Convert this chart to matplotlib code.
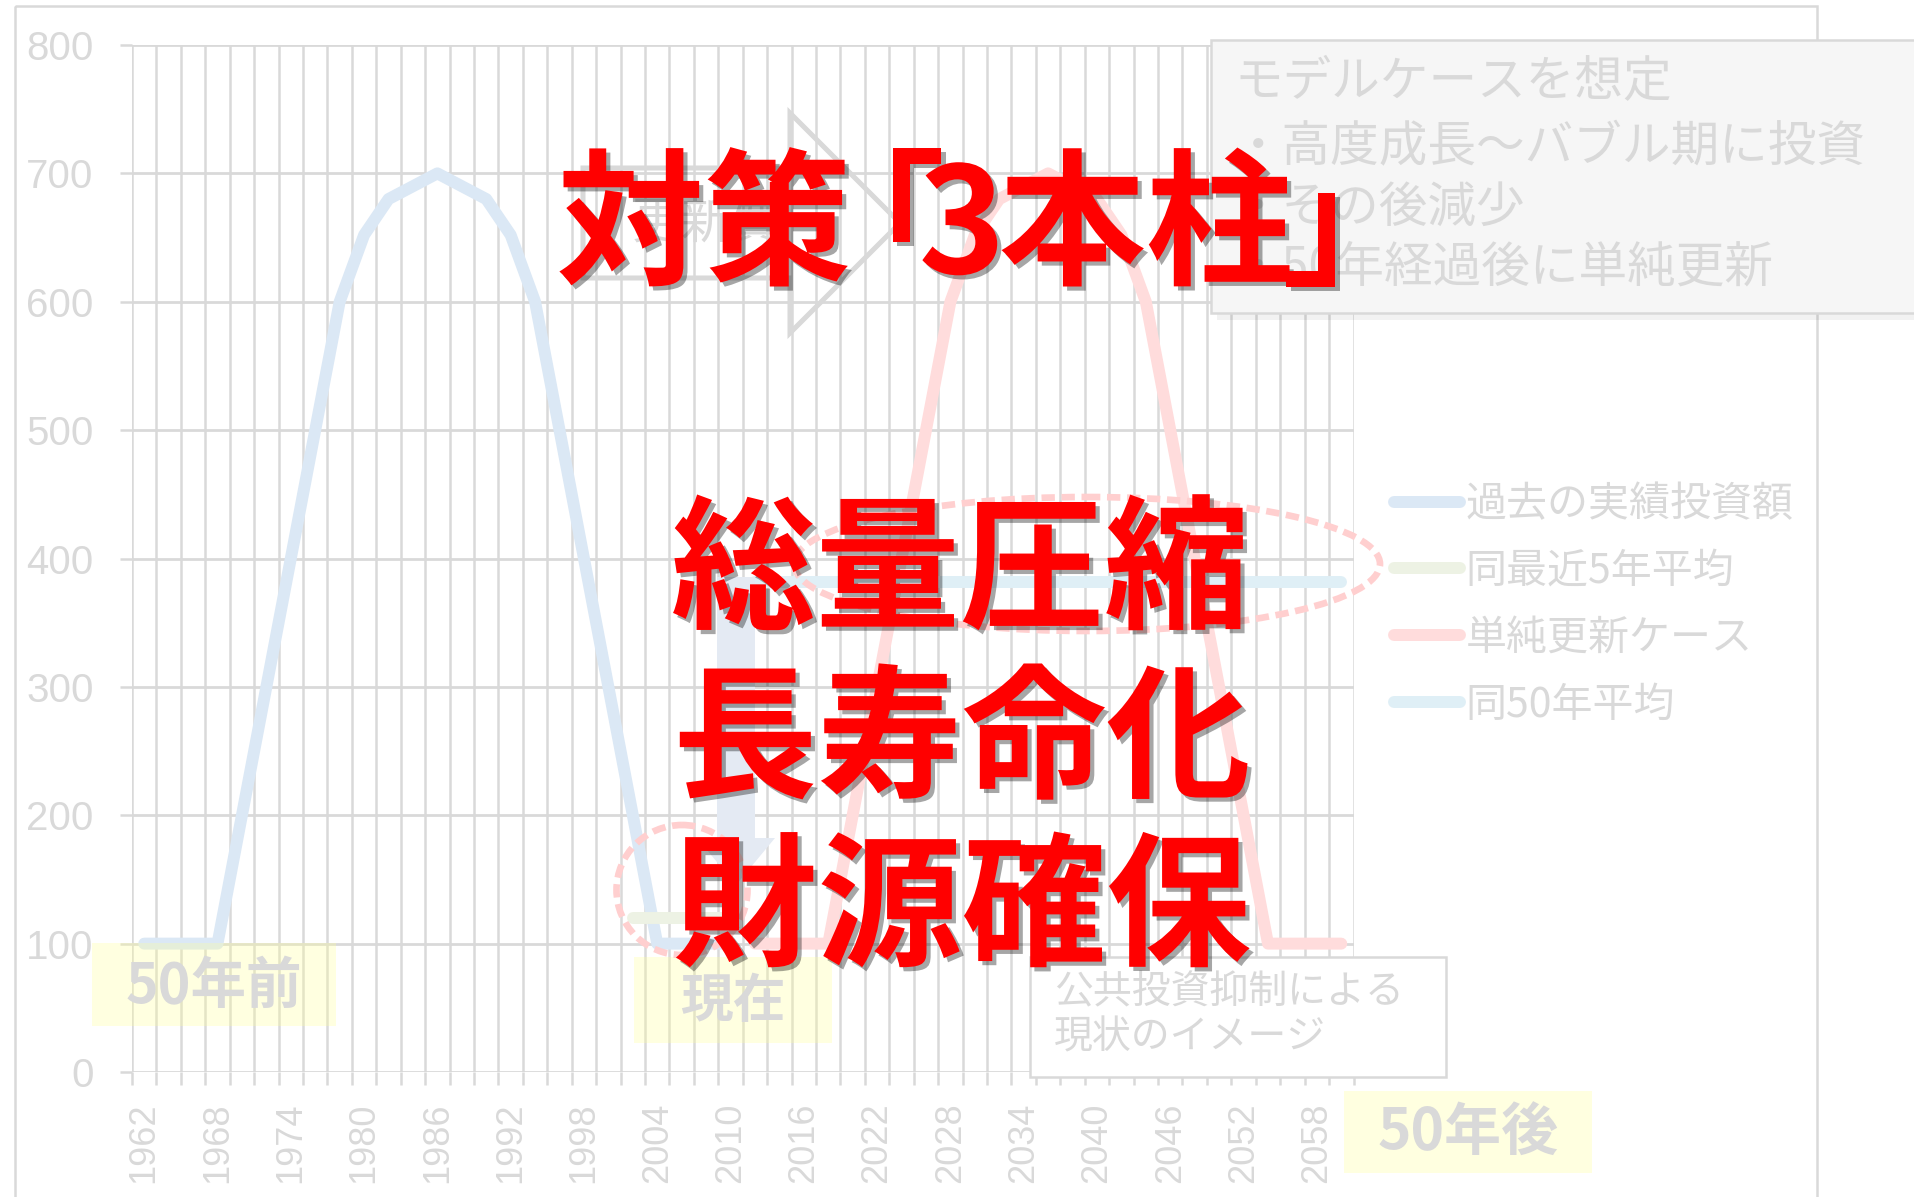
import matplotlib
matplotlib.use('Agg')
import matplotlib.pyplot as plt
import numpy as np
from matplotlib import patheffects
from matplotlib.patches import Rectangle, Ellipse, Polygon
from matplotlib.transforms import Affine2D

plt.rcParams['font.family'] = ['Noto Sans CJK JP', 'DejaVu Sans']

# categories (2-year steps)
years = list(range(1962, 2061, 2))
tick_years = years[::3]

# 過去の実績投資額 1962-2010
past_years = years[:25]
past = [100, 100, 100, 100, 200, 300, 400, 500, 600, 652, 680, 690, 700,
        690, 680, 652, 600, 500, 400, 300, 200, 100, 100, 100, 100]
# 同最近5年平均
recent_years = [2002, 2004, 2006, 2008, 2010]
recent5 = [120, 120, 120, 120, 120]
# 単純更新ケース 2012-2060
future_years = years[25:]
renewal = [100, 100, 100, 100, 200, 300, 400, 500, 600, 652, 680, 690, 700,
           690, 680, 652, 600, 500, 400, 300, 200, 100, 100, 100, 100]
# 同50年平均
avg50 = [382, 382, 382, 382, 382, 382, 382, 382, 382, 382, 382, 382, 382,
         382, 382, 382, 382, 382, 382, 382, 382, 382, 382, 382, 382]

GRAY = '#d9d9d9'
W, H = 1915, 1197
fig = plt.figure(figsize=(W / 100, H / 100), dpi=100)
# pixel coords of the reference, origin top-left
px = Affine2D().scale(1 / W, -1 / H).translate(0, 1) + fig.transFigure

ax = fig.add_axes([132 / W, (H - 1072) / H, 1221.5 / W, 1027 / H])
pos = {y: i for i, y in enumerate(years)}

line_kw = dict(lw=8.6, solid_capstyle='round', solid_joinstyle='round', zorder=3)
ax.plot([pos[y] for y in past_years], past, color='#dbe8f5', label='過去の実績投資額', **line_kw)
ax.plot([pos[y] for y in recent_years], recent5, color='#edf2e4', label='同最近5年平均', **line_kw)
ax.plot([pos[y] for y in future_years], renewal, color='#ffdcdc', label='単純更新ケース', **line_kw)
ax.plot([pos[y] for y in future_years], avg50, color='#dfeff6', label='同50年平均', **line_kw)

ax.set_xlim(-0.5, len(years) - 0.5)
ax.set_ylim(0, 800)
ax.set_yticks(range(0, 801, 100))
ax.set_xticks([pos[y] for y in tick_years])
ax.set_xticklabels([str(y) for y in tick_years], rotation=90, fontsize=26,
                   color=GRAY, family=['Liberation Sans', 'DejaVu Sans'])
ax.set_xticks(np.arange(-0.5, len(years), 1), minor=True)
for lab in ax.get_yticklabels():
    lab.set_family(['Liberation Sans Narrow', 'Liberation Sans', 'DejaVu Sans'])
ax.tick_params(axis='y', labelsize=29, labelcolor=GRAY, color=GRAY, length=8.6, width=1.8, pad=19)
ax.tick_params(axis='x', which='major', length=0, pad=22)
ax.tick_params(axis='x', which='minor', length=9.4, width=1.8, color=GRAY)
ax.grid(axis='y', which='major', color=GRAY, lw=2)
ax.grid(axis='x', which='minor', color=GRAY, lw=1.8)
ax.set_axisbelow(True)
for s in ax.spines.values():
    s.set_visible(False)

ax.legend(loc='upper left', bbox_to_anchor=(1394, 484), bbox_transform=px,
          frameon=False, fontsize=29.5, labelcolor=GRAY, handlelength=1.6,
          handletextpad=0.15, labelspacing=0.63, borderpad=0, borderaxespad=0)

# chart frame
fig.add_artist(Rectangle((15, 6), 1802, 1200, transform=px, fill=False, ec=GRAY, lw=1.8, zorder=0.5))

# yellow labels
for (x0, y0, w, h, txt, fs) in [(92, 943, 244, 83, '50年前', 40), (634, 957, 198, 86, '現在', 38),
                                (1344, 1091, 248, 82, '50年後', 41)]:
    fig.add_artist(Rectangle((x0, y0), w, h, transform=px, fc='#ffff99', alpha=0.3, ec='none', zorder=1))
    fig.text(x0 + w / 2, y0 + h / 2 + 2, txt, transform=px, ha='center', va='center',
             fontsize=fs, fontweight='bold', color=GRAY, zorder=3)

# gray outline arrow "更新費"
fig.add_artist(Polygon([(583, 168), (790, 168), (790, 113), (900, 223), (790, 333), (790, 278), (583, 278)],
                       closed=True, transform=px, fill=False, ec=GRAY, lw=3.6, zorder=1))
fig.text(707, 224, '更新費', transform=px, ha='center', va='center', fontsize=36, color=GRAY, zorder=3)

# down arrow
fig.add_artist(Polygon([(717, 577), (755, 577), (755, 838), (775, 838), (736, 885), (697, 838), (717, 838)],
                       closed=True, transform=px, fc='#e4eaf3', ec='none', zorder=1.2))

# dashed ellipses
for (cx, cy, w, h) in [(682, 890, 131, 130), (1087, 564, 586, 134)]:
    fig.add_artist(Ellipse((cx, cy), w, h, transform=px, fill=False, ec='#ffcfcf',
                           lw=4.8, ls=(0, (2, 1)), zorder=1.5))

# model case box
fig.add_artist(Rectangle((1217, 47), 720, 273, transform=px, fc='black', alpha=0.05, ec='none', zorder=1.8))
fig.add_artist(Rectangle((1211, 40), 720, 273, transform=px, fc='#f6f6f6', ec=GRAY, lw=1.8, zorder=2))
for ty, txt in [(82, 'モデルケースを想定'), (148, '・高度成長～バブル期に投資'),
                (208, '・その後減少'), (268, '・50年経過後に単純更新')]:
    fig.text(1234, ty, txt, transform=px, va='center', fontsize=35, color=GRAY, zorder=3)

# current situation box
fig.add_artist(Rectangle((1030, 957), 416, 120, transform=px, fc='white', ec=GRAY, lw=1.8, zorder=2))
fig.text(1054, 1015, '公共投資抑制による\n現状のイメージ', transform=px, va='center',
         fontsize=28, color=GRAY, linespacing=1.17, zorder=3)

# red headline text
shadow = [patheffects.SimplePatchShadow(offset=(3, -3), shadow_rgbFace='black', alpha=0.35),
          patheffects.Normal()]
red_kw = dict(transform=px, ha='center', va='center', color='#ff0000', fontweight='bold',
              path_effects=shadow, zorder=5)
fig.text(704, 230, '対策', fontsize=106, **red_kw)
fig.text(872, 230, '「', fontsize=106, **red_kw)
fig.text(962, 230, '3', fontsize=106, **red_kw)
fig.text(1146, 230, '本柱', fontsize=106, **red_kw)
fig.text(1356, 230, '」', fontsize=106, **red_kw)
fig.text(960, 575, '総量圧縮', fontsize=104, **red_kw)
fig.text(962, 744, '長寿命化', fontsize=104, **red_kw)
fig.text(962, 912, '財源確保', fontsize=104, **red_kw)

fig.savefig('out.png', dpi=100)
